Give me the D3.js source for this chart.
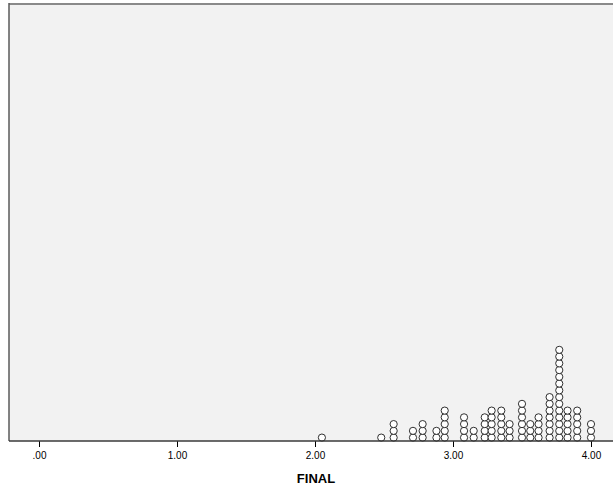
<!DOCTYPE html>
<html>
<head>
<meta charset="utf-8">
<script src="https://cdn.jsdelivr.net/npm/d3@7"></script>
<style>
  html, body { margin: 0; padding: 0; background: #ffffff; }
  svg { display: block; }
</style>
</head>
<body>
<svg id="chart" width="613" height="491"></svg>
<script>
// Distinct FINAL scores and how many cases sit at each one
const finalValues = [2.05, 2.48, 2.57, 2.71, 2.78, 2.88, 2.94, 3.08, 3.15, 3.23, 3.28,
                     3.35, 3.41, 3.50, 3.56, 3.62, 3.70, 3.77, 3.83, 3.90, 4.00];
const caseCounts  = [1, 1, 3, 2, 3, 2, 5, 4, 2, 4, 5,
                     5, 3, 6, 3, 4, 7, 14, 5, 5, 3];
const tickValues  = [0, 1, 2, 3, 4];
const tickLabels  = [".00", "1.00", "2.00", "3.00", "4.00"];
const axisTitle   = "FINAL";

const svg = d3.select("#chart");

const frame = { left: 9, top: 4, right: 625, bottom: 441 };
const x = d3.scaleLinear().domain([0, 4]).range([39, 591]);
// Vertical stacking: one level per case
const y = d3.scaleLinear().domain([0, 64]).range([437.6, 437.6 - 64 * 6.75]);

// Plot background
svg.append("rect")
  .attr("x", frame.left).attr("y", frame.top)
  .attr("width", frame.right - frame.left).attr("height", frame.bottom - frame.top)
  .attr("fill", "#f2f2f2");

// Frame borders (top and left)
svg.append("line")
  .attr("x1", frame.left).attr("x2", frame.right)
  .attr("y1", frame.top).attr("y2", frame.top)
  .attr("stroke", "#8a8a8a").attr("stroke-width", 2);
svg.append("line")
  .attr("x1", frame.left).attr("x2", frame.left)
  .attr("y1", frame.top - 1).attr("y2", frame.bottom)
  .attr("stroke", "#5a5a5a").attr("stroke-width", 1.5);

// Expand counts into stacked points
const points = [];
finalValues.forEach((v, i) => {
  for (let k = 0; k < caseCounts[i]; k++) points.push({ value: v, level: k });
});

svg.append("g")
  .selectAll("circle")
  .data(points)
  .join("circle")
  .attr("cx", d => x(d.value))
  .attr("cy", d => y(d.level))
  .attr("r", 3.6)
  .attr("fill", "#ffffff")
  .attr("stroke", "#1a1a1a")
  .attr("stroke-width", 0.9);

// X axis
const xAxis = d3.axisBottom(x)
  .tickValues(tickValues)
  .tickFormat((d, i) => tickLabels[i])
  .tickSize(6)
  .tickSizeOuter(0)
  .tickPadding(5);

const gx = svg.append("g")
  .attr("transform", `translate(0,${frame.bottom})`)
  .call(xAxis);
gx.select(".domain").remove();
gx.selectAll(".tick line").attr("stroke", "#000").attr("stroke-width", 1);
gx.selectAll(".tick text")
  .attr("fill", "#000")
  .style("font-family", "Arial, 'Liberation Sans', sans-serif")
  .style("font-size", "10px");

// Baseline across the plot
svg.append("line")
  .attr("x1", frame.left).attr("x2", frame.right)
  .attr("y1", frame.bottom).attr("y2", frame.bottom)
  .attr("stroke", "#3a3a3a").attr("stroke-width", 1.5);

// Axis title
svg.append("text")
  .attr("x", 316).attr("y", 483)
  .attr("text-anchor", "middle")
  .style("font-family", "Arial, 'Liberation Sans', sans-serif")
  .style("font-size", "13px")
  .style("font-weight", "bold")
  .attr("fill", "#000")
  .text(axisTitle);
</script>
</body>
</html>
